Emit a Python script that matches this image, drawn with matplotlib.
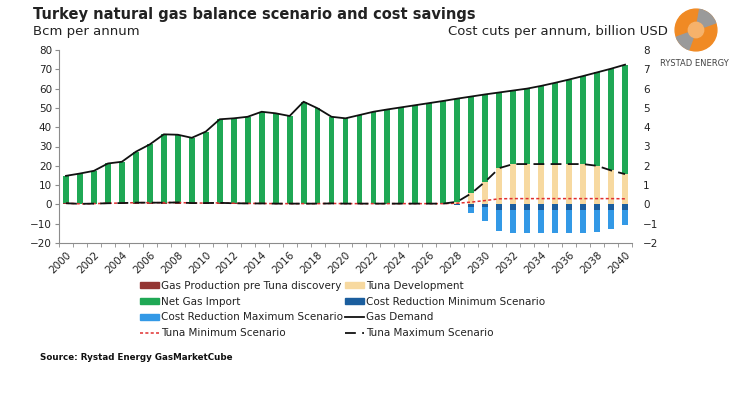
import numpy as np
import matplotlib.pyplot as plt
from matplotlib.patches import Patch, Circle, Wedge
from matplotlib.lines import Line2D
from matplotlib.transforms import ScaledTranslation

# Data (Bcm per annum, cost in billion USD)
years = list(range(2000, 2041))

gas_demand = [14.8, 16.0, 17.4, 21.2, 22.1, 27.3, 31.1, 36.3, 36.1, 34.5,
              37.7, 44.1, 44.6, 45.4, 48.0, 47.2, 45.8, 53.2, 49.8, 45.4,
              44.6, 46.3, 48.0, 49.2, 50.3, 51.4, 52.5, 53.6, 54.8, 55.9,
              57.0, 58.0, 59.0, 60.0, 61.4, 63.0, 64.7, 66.5, 68.4, 70.3,
              72.4]

gas_production = [0.6, 0.3, 0.4, 0.6, 0.7, 0.9, 0.9, 0.9, 1.0, 0.7,
                  0.7, 0.8, 0.6, 0.5, 0.5, 0.4, 0.4, 0.4, 0.4, 0.5,
                  0.4, 0.4, 0.4, 0.4, 0.4, 0.4, 0.4, 0.4, 0.3, 0.3,
                  0.3, 0.3, 0.3, 0.3, 0.3, 0.3, 0.3, 0.3, 0.3, 0.3,
                  0.3]

tuna_max = [0.6, 0.3, 0.4, 0.6, 0.7, 0.9, 0.9, 0.9, 1.0, 0.7,
            0.7, 0.8, 0.6, 0.5, 0.5, 0.4, 0.4, 0.4, 0.4, 0.5,
            0.4, 0.4, 0.4, 0.4, 0.4, 0.4, 0.4, 0.4, 1.4, 5.7,
            11.8, 18.8, 20.9, 20.9, 20.9, 20.9, 20.9, 20.9, 20.0, 17.6,
            15.7]

tuna_min = [0.6, 0.3, 0.4, 0.6, 0.7, 0.9, 0.9, 0.9, 1.0, 0.7,
            0.7, 0.8, 0.6, 0.5, 0.5, 0.4, 0.4, 0.4, 0.4, 0.5,
            0.4, 0.4, 0.4, 0.4, 0.4, 0.4, 0.4, 0.4, 0.6, 1.2,
            2.0, 2.9, 3.0, 3.0, 3.0, 3.0, 3.0, 3.0, 3.0, 3.0,
            2.9]

cost_min = [0] * 28 + [-0.05, -0.12, -0.12, -0.27, -0.27, -0.27, -0.27,
                       -0.27, -0.27, -0.27, -0.27, -0.27, -0.27]
cost_max = [0] * 28 + [-0.05, -0.45, -0.87, -1.40, -1.49, -1.49, -1.49,
                       -1.49, -1.49, -1.49, -1.43, -1.26, -1.09]

# stacks: production, then Tuna development up to the max scenario, then imports
x = np.arange(len(years))
prod = np.array(gas_production)
tuna_dev = np.array(tuna_max) - prod
net_import = np.array(gas_demand) - prod - tuna_dev

c_prod = '#943634'
c_import = '#1FA855'
c_tuna = '#F7D9A0'
c_cmin = '#1B5E9E'
c_cmax = '#3399E6'
txt = '#222222'
grey = '#8c8c8c'

fig = plt.figure(figsize=(7.46, 3.94), dpi=100)
ax = fig.add_axes([59 / 746, 1 - 243 / 394, 573 / 746, 193 / 394])
ax2 = ax.twinx()

w = 0.42
ax.bar(x, prod, w, color=c_prod)
ax.bar(x, tuna_dev, w, bottom=prod, color=c_tuna)
ax.bar(x, net_import, w, bottom=prod + tuna_dev, color=c_import)
ax.plot(x, gas_demand, color='#111111', lw=1.3)
ax.plot(x, tuna_min, color='#E03030', lw=1.1, dashes=(2, 1.5))
ax.plot(x, tuna_max, color='#111111', lw=1.3, dashes=(6, 3.5))

ax2.bar(x, cost_max, w, color=c_cmax)
ax2.bar(x, cost_min, w, color=c_cmin)

# keep lines and main bars above the cost bars
ax.set_zorder(ax2.get_zorder() + 1)
ax.patch.set_visible(False)

ax.set_xlim(-0.5, len(years) - 0.5)
ax.set_ylim(-20, 80)
ax2.set_ylim(-2, 8)
ax.set_yticks(range(-20, 81, 10))
ax2.set_yticks(range(-2, 9, 1))

ax.set_xticks(x[::2])
ax.set_xticklabels([str(y) for y in years[::2]], rotation=45, ha='right',
                   va='top', rotation_mode='anchor')
# nudge the rotated year labels a little to the left, like the original
shift = ScaledTranslation(-3 / 100, -2 / 100, fig.dpi_scale_trans)
for lab in ax.get_xticklabels():
    lab.set_transform(lab.get_transform() + shift)
ax.set_xticks(np.arange(-0.5, len(years), 1), minor=True)
ax.tick_params(axis='x', which='major', length=0, pad=5, labelsize=7.5, colors=txt)
ax.tick_params(axis='x', which='minor', length=3, color=grey)
ax.tick_params(axis='y', length=3, color=grey, labelsize=7.5, labelcolor=txt, pad=2)
ax2.tick_params(axis='y', length=0, labelsize=7.5, labelcolor=txt, pad=8)

for a in (ax, ax2):
    for s in a.spines.values():
        s.set_visible(False)
ax.spines['left'].set_visible(True)
ax.spines['bottom'].set_visible(True)
ax.spines['left'].set_color(grey)
ax.spines['bottom'].set_color(grey)

# titles
fig.text(33 / 746, 1 - 15 / 394, 'Turkey natural gas balance scenario and cost savings',
         fontsize=10.5, fontweight='bold', color=txt, va='center', ha='left')
fig.text(33 / 746, 1 - 32 / 394, 'Bcm per annum', fontsize=9.5, color=txt,
         va='center', ha='left')
fig.text(668 / 746, 1 - 32 / 394, 'Cost cuts per annum, billion USD', fontsize=9.5,
         color=txt, va='center', ha='right')
fig.text(40 / 746, 1 - 358 / 394, 'Source: Rystad Energy GasMarketCube',
         fontsize=6.3, fontweight='bold', color='#111111', va='center', ha='left')

# legend, ordered column by column
handles = [Patch(color=c_prod), Patch(color=c_import), Patch(color=c_cmax),
           Line2D([], [], color='#E03030', lw=1.1, dashes=(2, 1.5)),
           Patch(color=c_tuna), Patch(color=c_cmin),
           Line2D([], [], color='#111111', lw=1.3),
           Line2D([], [], color='#111111', lw=1.3, dashes=(6, 3.5))]
labels = ['Gas Production pre Tuna discovery', 'Net Gas Import',
          'Cost Reduction Maximum Scenario', 'Tuna Minimum Scenario',
          'Tuna Development', 'Cost Reduction Minimum Scenario',
          'Gas Demand', 'Tuna Maximum Scenario']
leg = fig.legend(handles, labels, ncol=2, frameon=False, fontsize=7.5,
                 loc='upper left', bbox_to_anchor=(140 / 746, 1 - 281 / 394),
                 handlelength=1.8, handleheight=0.5, handletextpad=0.2,
                 columnspacing=0.2, labelspacing=0.55, borderaxespad=0,
                 borderpad=0)
for t in leg.get_texts():
    t.set_color(txt)

# simple logo
lax = fig.add_axes([674 / 746, 1 - 52 / 394, 44 / 746, 44 / 394])
lax.set_xlim(-1, 1)
lax.set_ylim(-1, 1)
lax.set_aspect('equal')
lax.axis('off')
lax.add_patch(Circle((0, 0), 0.95, color='#F08A24'))
lax.add_patch(Wedge((0, 0), 0.95, 20, 80, color='#9a9a9a'))
lax.add_patch(Wedge((0, 0), 0.95, 200, 250, color='#9a9a9a'))
lax.add_patch(Circle((0, 0), 0.35, color='#F6B26B'))
fig.text(694 / 746, 1 - 64 / 394, 'RYSTAD ENERGY', fontsize=6, color='#444444',
         ha='center', va='center')

fig.savefig('out.png', dpi=100)
